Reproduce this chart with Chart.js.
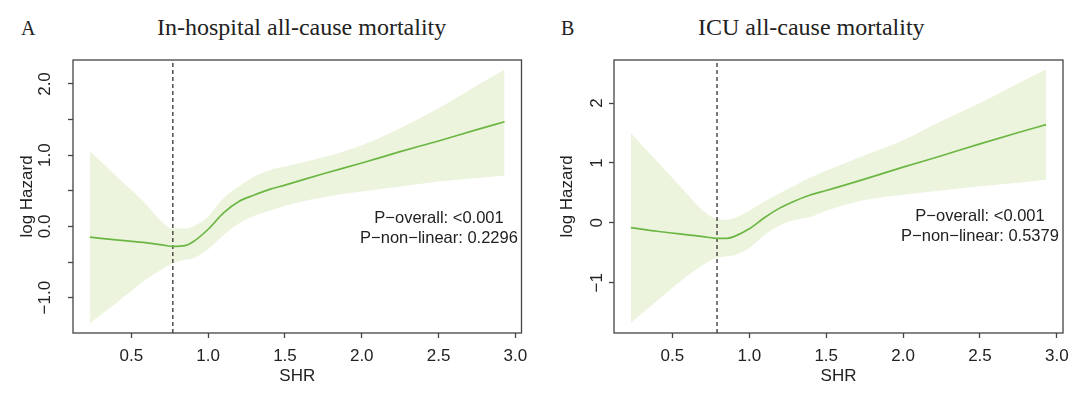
<!DOCTYPE html>
<html>
<head>
<meta charset="utf-8">
<script src="https://cdn.jsdelivr.net/npm/chart.js@4.4.1/dist/chart.umd.min.js"></script>
<style>
  body { margin: 0; background: #fff; width: 1080px; height: 396px; overflow: hidden; position: relative;
         font-family: "Liberation Sans", Arial, sans-serif; }
  .panel { position: absolute; top: 0; width: 540px; height: 396px; }
  .ttl { position: absolute; font-family: "Liberation Serif", "Times New Roman", serif; font-size: 24px;
         line-height: 24px; color: #222; white-space: nowrap; }
  .tag { position: absolute; font-family: "Liberation Serif", "Times New Roman", serif; font-size: 20px;
         line-height: 20px; color: #222; }
  .pv { position: absolute; font-size: 16.5px; line-height: 20px; color: #222; white-space: nowrap;
        text-align: center; transform: translateX(-50%); }
</style>
</head>
<body>
<div class="tag" style="left:21px;top:18px">A</div>
<div class="ttl" style="left:157px;top:15px">In-hospital all-cause mortality</div>
<div class="tag" style="left:561px;top:18px">B</div>
<div class="ttl" style="left:698px;top:15px">ICU all-cause mortality</div>

<div class="panel" style="left:0"><canvas id="chartA" width="540" height="396"></canvas></div>
<div class="panel" style="left:540px"><canvas id="chartB" width="540" height="396"></canvas></div>

<div class="pv" style="left:439px;top:206.5px">P&minus;overall: &lt;0.001<br>P&minus;non&minus;linear: 0.2296</div>
<div class="pv" style="left:980px;top:204.5px">P&minus;overall: &lt;0.001<br>P&minus;non&minus;linear: 0.5379</div>

<script>
// SHR grid shared by both panels
const shr = [0.23, 0.4, 0.6, 0.7, 0.77, 0.85, 0.9, 1.0, 1.1, 1.2, 1.3, 1.4, 1.5, 1.75, 2.0, 2.25, 2.5, 2.75, 2.93];

// A: in-hospital mortality (log hazard, 95% CI)
const fitA   = [-0.15, -0.19, -0.23, -0.26, -0.28, -0.27, -0.22, -0.04, 0.19, 0.35, 0.44, 0.52, 0.58, 0.74, 0.89, 1.05, 1.20, 1.36, 1.47];
const upperA = [1.06, 0.71, 0.30, 0.06, -0.03, -0.03, 0.00, 0.14, 0.40, 0.56, 0.70, 0.79, 0.84, 0.97, 1.14, 1.38, 1.66, 1.98, 2.20];
const lowerA = [-1.36, -1.08, -0.74, -0.60, -0.52, -0.47, -0.45, -0.32, -0.12, 0.04, 0.15, 0.22, 0.29, 0.41, 0.49, 0.56, 0.63, 0.68, 0.71];

// B: ICU mortality
const fitB   = [-0.08, -0.14, -0.20, -0.23, -0.255, -0.26, -0.23, -0.10, 0.09, 0.25, 0.37, 0.47, 0.54, 0.73, 0.93, 1.12, 1.32, 1.51, 1.64];
const upperB = [1.50, 1.03, 0.47, 0.20, 0.08, 0.05, 0.08, 0.20, 0.36, 0.50, 0.63, 0.76, 0.87, 1.13, 1.38, 1.70, 2.00, 2.33, 2.56];
const lowerB = [-1.67, -1.30, -0.88, -0.70, -0.60, -0.56, -0.54, -0.42, -0.20, -0.04, 0.05, 0.10, 0.20, 0.38, 0.47, 0.54, 0.61, 0.67, 0.72];

const cutA = 0.77;
const cutB = 0.79;

const xTicks = [0.5, 1.0, 1.5, 2.0, 2.5, 3.0];
const xTickLabels = ['0.5', '1.0', '1.5', '2.0', '2.5', '3.0'];
const yTicksA = [-1, -0.5, 0, 0.5, 1, 1.5, 2];
const yTickLabelsA = ['\u22121.0', '', '0.0', '', '1.0', '', '2.0'];
const yTicksB = [-1, 0, 1, 2];
const yTickLabelsB = ['\u22121', '0', '1', '2'];

const bandColor = 'rgb(236, 244, 221)';
const lineColor = '#6cb644';
const axisColor = '#444';
const textColor = '#222';
const font = { family: '"Liberation Sans", Arial, sans-serif', size: 17 };

const pts = (ys) => shr.map((x, i) => ({ x: x, y: ys[i] }));

const boxPlugin = {
    id: 'box',
    afterDatasetsDraw(chart) {
        const { ctx, chartArea: a } = chart;
        ctx.save();
        ctx.strokeStyle = axisColor;
        ctx.lineWidth = 1.3;
        ctx.strokeRect(a.left, a.top, a.right - a.left, a.bottom - a.top);
        ctx.restore();
    }
};

function makePanel(id, p) {
    return new Chart(document.getElementById(id), {
        type: 'line',
        data: {
            datasets: [
                { data: pts(p.upper), borderWidth: 0, pointRadius: 0, fill: '+1', backgroundColor: bandColor, cubicInterpolationMode: 'monotone' },
                { data: pts(p.lower), borderWidth: 0, pointRadius: 0, fill: false, cubicInterpolationMode: 'monotone' },
                { data: pts(p.fit), borderColor: lineColor, borderWidth: 1.7, pointRadius: 0, fill: false, cubicInterpolationMode: 'monotone' },
                { data: [{ x: p.cut, y: p.yMin }, { x: p.cut, y: p.yMax }], borderColor: '#333', borderWidth: 1.3,
                  borderDash: [4, 3], pointRadius: 0, fill: false }
            ]
        },
        options: {
            responsive: false,
            animation: false,
            layout: { padding: { top: 60, right: p.padRight, left: 0, bottom: 0 } },
            plugins: {
                legend: { display: false },
                tooltip: { enabled: false },
                filler: { drawTime: 'beforeDatasetsDraw' }
            },
            scales: {
                x: {
                    type: 'linear', min: 0.12, max: 3.04,
                    afterBuildTicks: s => { s.ticks = xTicks.map(v => ({ value: v })); },
                    afterFit: s => { s.height = 63; },
                    ticks: { callback: (v, i) => xTickLabels[i], font: font, color: textColor, padding: 8,
                             maxRotation: 0, autoSkip: false },
                    grid: { drawOnChartArea: false, drawTicks: true, tickLength: 5, color: axisColor, tickWidth: 1.3 },
                    border: { display: false },
                    title: { display: true, text: 'SHR', font: font, color: textColor, padding: { top: 0, bottom: 9 } }
                },
                y: {
                    type: 'linear', min: p.yMin, max: p.yMax,
                    afterBuildTicks: s => { s.ticks = p.yTicks.map(v => ({ value: v })); },
                    afterFit: s => { s.width = p.axisW; },
                    ticks: { callback: (v, i) => p.yLabels[i], font: font, color: textColor, padding: p.yPad,
                             minRotation: 90, maxRotation: 90, crossAlign: 'center', autoSkip: false },
                    grid: { drawOnChartArea: false, drawTicks: true, tickLength: 5, color: axisColor, tickWidth: 1.3 },
                    border: { display: false },
                    title: { display: true, text: 'log Hazard', font: font, color: textColor, padding: { top: 17, bottom: 0 } }
                }
            }
        },
        plugins: [boxPlugin]
    });
}

makePanel('chartA', { fit: fitA, upper: upperA, lower: lowerA, cut: cutA, yMin: -1.497, yMax: 2.337,
    yTicks: yTicksA, yLabels: yTickLabelsA, axisW: 73, padRight: 18.5, yPad: 5.5 });
makePanel('chartB', { fit: fitB, upper: upperB, lower: lowerB, cut: cutB, yMin: -1.84, yMax: 2.72,
    yTicks: yTicksB, yLabels: yTickLabelsB, axisW: 74, padRight: 17, yPad: 1.5 });
</script>
</body>
</html>
